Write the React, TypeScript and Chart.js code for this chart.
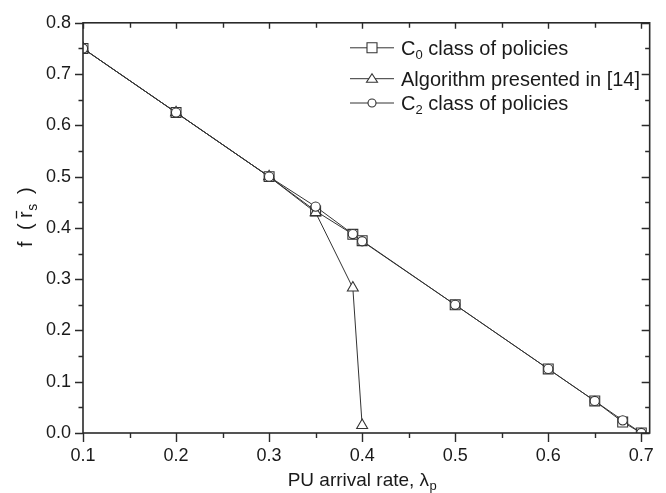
import React, { useEffect, useRef } from 'react';
import { Chart, registerables } from 'chart.js';

Chart.register(...registerables);

// ---- Data ----
const xValues = [0.1, 0.2, 0.3, 0.35, 0.39, 0.4, 0.5, 0.6, 0.65, 0.68, 0.7];
const c0Values = [0.75, 0.625, 0.5, 0.433, 0.3875, 0.375, 0.25, 0.125, 0.0625, 0.0215, 0.0];
const c2Values = [0.75, 0.625, 0.5, 0.4415, 0.388, 0.374, 0.25, 0.125, 0.0625, 0.0247, 0.0];
const algXValues = [0.1, 0.2, 0.3, 0.35, 0.39, 0.4];
const algValues = [0.75, 0.625, 0.5, 0.43, 0.283, 0.015];

const xTickValues = [0.1, 0.2, 0.3, 0.4, 0.5, 0.6, 0.7];
const xMinorTickValues = [0.15, 0.25, 0.35, 0.45, 0.55, 0.65];
const yTickValues = [0, 0.1, 0.2, 0.3, 0.4, 0.5, 0.6, 0.7, 0.8];
const yMinorTickValues = [0.05, 0.15, 0.25, 0.35, 0.45, 0.55, 0.65, 0.75];

// legend entries: [main, subscript, rest]
const legendEntries: [string, string, string][] = [
  ['C', '0', ' class of policies'],
  ['Algorithm presented in [14]', '', ''],
  ['C', '2', ' class of policies'],
];
const legendMarkers = ['rect', 'triangle', 'circle'];

const xTitleMain = 'PU arrival rate, \u03bb';
const xTitleSub = 'p';

const FONT = '"Liberation Sans", Arial, sans-serif';
const INK = '#2a2a2a';

function drawMarker(ctx: CanvasRenderingContext2D, kind: string, x: number, y: number) {
  ctx.beginPath();
  if (kind === 'rect') {
    ctx.rect(x - 5, y - 5, 10, 10);
  } else if (kind === 'triangle') {
    ctx.moveTo(x, y - 5);
    ctx.lineTo(x + 5.5, y + 3.5);
    ctx.lineTo(x - 5.5, y + 3.5);
    ctx.closePath();
  } else {
    ctx.arc(x, y, 4, 0, Math.PI * 2);
  }
  ctx.fillStyle = '#fff';
  ctx.fill();
  ctx.stroke();
}

const decorPlugin = {
  id: 'decor',
  afterDraw(chart: any) {
    const ctx: CanvasRenderingContext2D = chart.ctx;
    const { left, right, top, bottom } = chart.chartArea;
    const xs = chart.scales.x;
    const ys = chart.scales.y;
    ctx.save();
    ctx.strokeStyle = INK;
    ctx.lineWidth = 1.6;
    ctx.lineCap = 'butt';
    // frame
    ctx.strokeRect(left, top, right - left, bottom - top);
    ctx.lineWidth = 1.4;
    ctx.beginPath();
    // x ticks: bottom outward, top inward
    xTickValues.forEach((v) => {
      const px = Math.round(xs.getPixelForValue(v)) + 0.5;
      ctx.moveTo(px, bottom); ctx.lineTo(px, bottom + 9);
      ctx.moveTo(px, top); ctx.lineTo(px, top + 6);
    });
    xMinorTickValues.forEach((v) => {
      const px = Math.round(xs.getPixelForValue(v)) + 0.5;
      ctx.moveTo(px, bottom); ctx.lineTo(px, bottom + 5);
      ctx.moveTo(px, top); ctx.lineTo(px, top + 5);
    });
    // y ticks: left outward, right inward
    yTickValues.forEach((v) => {
      const py = Math.round(ys.getPixelForValue(v)) + 0.5;
      ctx.moveTo(left, py); ctx.lineTo(left - 8, py);
      ctx.moveTo(right, py); ctx.lineTo(right - 8, py);
    });
    yMinorTickValues.forEach((v) => {
      const py = Math.round(ys.getPixelForValue(v)) + 0.5;
      ctx.moveTo(left, py); ctx.lineTo(left - 4.5, py);
      ctx.moveTo(right, py); ctx.lineTo(right - 4.5, py);
    });
    ctx.stroke();

    // legend
    const rowsY = [47.8, 78.7, 103];
    ctx.lineWidth = 1;
    ctx.strokeStyle = '#333';
    legendEntries.forEach((e, i) => {
      const y = rowsY[i];
      ctx.beginPath();
      ctx.moveTo(350, y); ctx.lineTo(394, y);
      ctx.stroke();
      ctx.lineWidth = 1.1;
      drawMarker(ctx, legendMarkers[i], 372, y);
      ctx.lineWidth = 1;
      ctx.fillStyle = '#1a1a1a';
      ctx.textBaseline = 'alphabetic';
      ctx.textAlign = 'left';
      const base = y + 7.2;
      let x = 401;
      ctx.font = `20px ${FONT}`;
      ctx.fillText(e[0], x, base);
      x += ctx.measureText(e[0]).width;
      if (e[1]) {
        ctx.font = `13px ${FONT}`;
        ctx.fillText(e[1], x, base + 4);
        x += ctx.measureText(e[1]).width;
      }
      if (e[2]) {
        ctx.font = `20px ${FONT}`;
        ctx.fillText(e[2], x, base);
      }
    });

    // x title
    ctx.fillStyle = '#1a1a1a';
    ctx.font = `19px ${FONT}`;
    const w1 = ctx.measureText(xTitleMain).width;
    ctx.font = `13px ${FONT}`;
    const w2 = ctx.measureText(xTitleSub).width;
    let tx = 362 - (w1 + w2) / 2;
    ctx.font = `19px ${FONT}`;
    ctx.fillText(xTitleMain, tx, 486);
    ctx.font = `13px ${FONT}`;
    ctx.fillText(xTitleSub, tx + w1 + 0.5, 490);

    // y title: f ( r̄s )
    ctx.save();
    ctx.translate(32, 247);
    ctx.rotate(-Math.PI / 2);
    ctx.font = `20px ${FONT}`;
    ctx.fillText('f', 0, 0);
    ctx.fillText('(', 17, 0);
    ctx.fillText('r', 29, 0);
    const rw = ctx.measureText('r').width;
    ctx.lineWidth = 1.3;
    ctx.strokeStyle = '#1a1a1a';
    ctx.beginPath();
    ctx.moveTo(28.5, -15.5); ctx.lineTo(29 + rw + 0.5, -15.5);
    ctx.stroke();
    ctx.font = `14px ${FONT}`;
    ctx.fillText('s', 29 + rw + 0.5, 5);
    ctx.font = `20px ${FONT}`;
    ctx.fillText(')', 53, 0);
    ctx.restore();

    ctx.restore();
  },
};

export default function App() {
  const ref = useRef<HTMLCanvasElement | null>(null);
  useEffect(() => {
    if (!ref.current) return;
    const mkPts = (xsArr: number[], ysArr: number[]) => xsArr.map((x, i) => ({ x, y: ysArr[i] }));
    const common = {
      borderColor: '#333',
      borderWidth: 1,
      pointBackgroundColor: '#fff',
      pointBorderColor: '#333',
      pointBorderWidth: 1.1,
      showLine: true,
      fill: false,
      tension: 0,
    };
    const chart = new Chart(ref.current, {
      type: 'scatter',
      data: {
        datasets: [
          { ...common, label: 'C0 class of policies', data: mkPts(xValues, c0Values), pointStyle: 'rect', pointRadius: 7, order: 2 },
          { ...common, label: 'Algorithm presented in [14]', data: mkPts(algXValues, algValues), pointStyle: 'triangle', pointRadius: 6.3, order: 1 },
          { ...common, label: 'C2 class of policies', data: mkPts(xValues, c2Values), pointStyle: 'circle', pointRadius: 4.6, order: 0 },
        ],
      },
      options: {
        animation: false,
        responsive: false,
        layout: { padding: { top: 12, right: 13, left: 0, bottom: 0 } },
        plugins: { legend: { display: false }, tooltip: { enabled: false } },
        scales: {
          x: {
            type: 'linear',
            min: 0.1,
            max: 0.709,
            grid: { display: false, drawTicks: false, tickLength: 0 },
            border: { display: false },
            afterBuildTicks: (s: any) => { s.ticks = xTickValues.map((v) => ({ value: v })); },
            afterFit: (s: any) => { s.height = 60; },
            ticks: {
              padding: 12,
              color: '#1a1a1a',
              font: { family: FONT, size: 18 },
              callback: (v: any) => Number(v).toFixed(1),
              maxRotation: 0,
              autoSkip: false,
            },
          },
          y: {
            type: 'linear',
            min: 0,
            max: 0.8,
            grid: { display: false, drawTicks: false, tickLength: 0 },
            border: { display: false },
            afterBuildTicks: (s: any) => { s.ticks = yTickValues.map((v) => ({ value: v })); },
            afterFit: (s: any) => { s.width = 83; },
            ticks: {
              padding: 12,
              color: '#1a1a1a',
              font: { family: FONT, size: 18 },
              callback: (v: any) => Number(v).toFixed(1),
              autoSkip: false,
            },
          },
        },
      },
      plugins: [decorPlugin],
    });
    return () => chart.destroy();
  }, []);
  return (
    <div style={{ position: 'fixed', left: 0, top: 0, width: 666, height: 493, background: '#fff' }}>
      <canvas ref={ref} width={666} height={493} style={{ width: 666, height: 493, display: 'block' }} />
    </div>
  );
}
